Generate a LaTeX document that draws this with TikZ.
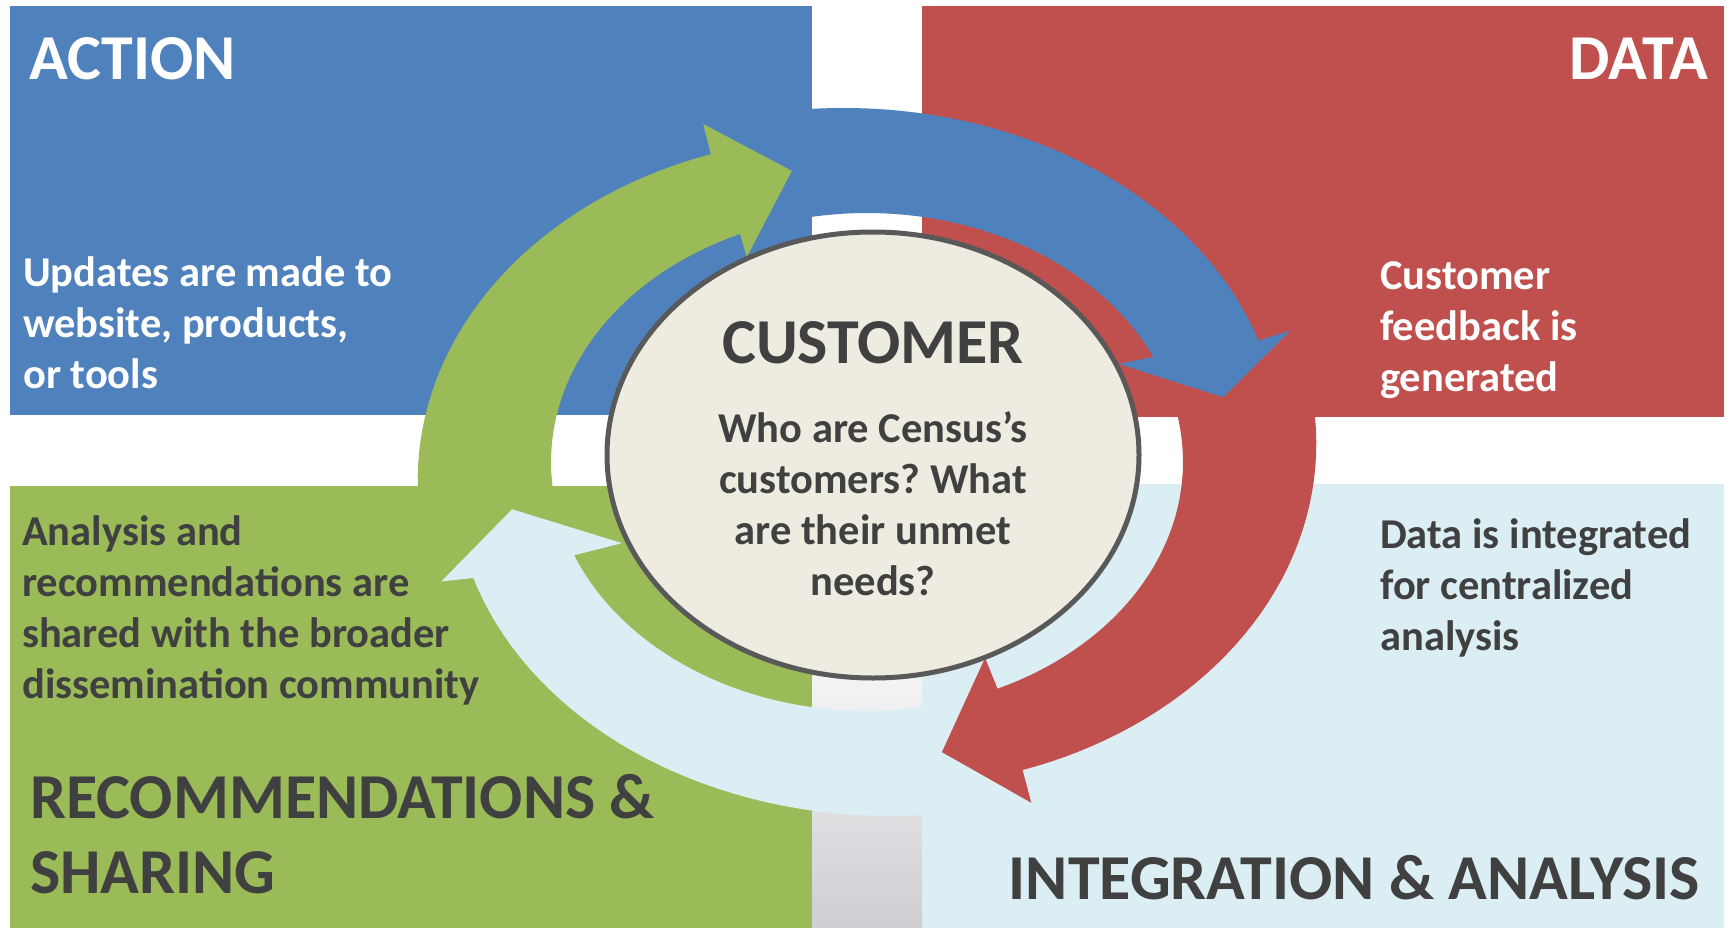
\documentclass[tikz,border=0pt]{standalone}
\usepackage{fontspec}
\setmainfont{Carlito}
\frenchspacing
\usetikzlibrary{shapes.geometric}
\definecolor{actionblue}{HTML}{4F81BD}
\definecolor{datared}{HTML}{C0504D}
\definecolor{sharegreen}{HTML}{9BBB59}
\definecolor{analysisblue}{HTML}{DBEEF4}
\definecolor{customerfill}{HTML}{EEECE1}
\definecolor{rimgray}{HTML}{595959}
\definecolor{textgray}{HTML}{404040}
\definecolor{gapgray}{HTML}{CECED3}
\tikzset{
	title/.style={
		% The text:
		font=\fontsize{64}{75}\selectfont\bfseries,
		% The rest
		inner sep=0pt,
	}}
\tikzset{
	body/.style={
		% The text:
		font=\fontsize{42.5}{51}\selectfont\bfseries,
		align=left,
		% The rest
		inner sep=0pt,
	}}
\tikzset{
	customer/.style={
		% The shape:
		ellipse,minimum width=532pt,minimum height=446pt,
		% The border:
		line width=5pt,
		draw=rimgray,
		% The filling:
		fill=customerfill,
	}}

\begin{document}
\begin{tikzpicture}[x=1pt,y=-1pt]
	\useasboundingbox (0,0) rectangle (1731,928);
	\fill[white] (0,0) rectangle (1731,928);
	% four quadrants
	\fill[actionblue] (10,6) rectangle (812,415);
	\fill[datared] (922,6) rectangle (1724,417);
	\fill[sharegreen] (10,486) rectangle (812,928);
	\fill[analysisblue] (922,484) rectangle (1724,928);
	\shade[top color=white,bottom color=gapgray] (812,600) rectangle (922,928);
	% the cycle: polar (angle:radius) on the inner ring
	\begin{scope}[shift={(867pt,-462pt)},x=316pt,y=-249pt,samples=40]
		\fill[analysisblue] plot[domain=75:159.5] (\x:{1.42-0.0013*(\x-90)})
			-- (160.4:1.43) -- (170.4:1.139) -- (157.2:0.841) -- (158:1)
			-- plot[domain=158:75] (\x:1) -- cycle;
		\fill[datared] plot[domain=-14:68.3] (\x:{1.42-0.0013*\x})
			-- (69.2:1.464) -- (78.5:1.189) -- (64.6:0.871) -- (65.6:1)
			-- plot[domain=65.6:-14] (\x:1) -- cycle;
		\fill[actionblue] plot[domain=-102:-21.5] (\x:{1.42-0.0013*(\x+90)})
			-- (-21.5:1.44) -- (-13:1.157) -- (-26.3:0.889) -- (-25:1)
			-- plot[domain=-25:-102] (\x:1) -- cycle;
		\fill[sharegreen] plot[domain=174:248.2] (\x:{1.42-0.0013*(\x-180)})
			-- (249.1:1.453) -- (258.5:1.193) -- (245.2:0.907) -- (246.3:1)
			-- plot[domain=246.3:174] (\x:1) -- cycle;
	\end{scope}
	\node[customer] (customer) at (873,455) {};
	% titles (base = last line)
	\node[title,text=white,anchor=base west] (action-title) at (29,80) {ACTION};
	\node[title,text=white,anchor=base east] (data-title) at (1708,80) {DATA};
	\node[title,text=textgray,anchor=base west,align=left] (sharing-title) at (30,893) {RECOMMENDATIONS \&\\SHARING};
	\node[title,text=textgray,anchor=base east] (analysis-title) at (1700,899) {INTEGRATION \& ANALYSIS};
	\node[title,text=textgray,anchor=base] (customer-title) at (873,363) {CUSTOMER};
	% texts
	\node[body,text=white,anchor=base west] (action-text) at (23,388) {Updates are made to\\website, products,\\or tools};
	\node[body,text=white,anchor=base west] (data-text) at (1380,391) {Customer\\feedback is\\generated};
	\node[body,text=textgray,anchor=base west] (sharing-text) at (22,698) {Analysis and\\recommendations are\\shared with the broader\\dissemination community};
	\node[body,text=textgray,anchor=base west] (analysis-text) at (1380,650) {Data is integrated\\for centralized\\analysis};
	\node[body,text=textgray,align=center,anchor=base] (customer-text) at (873,595) {Who are Census’s\\customers? What\\are their unmet\\needs?};
\end{tikzpicture}
\end{document}
